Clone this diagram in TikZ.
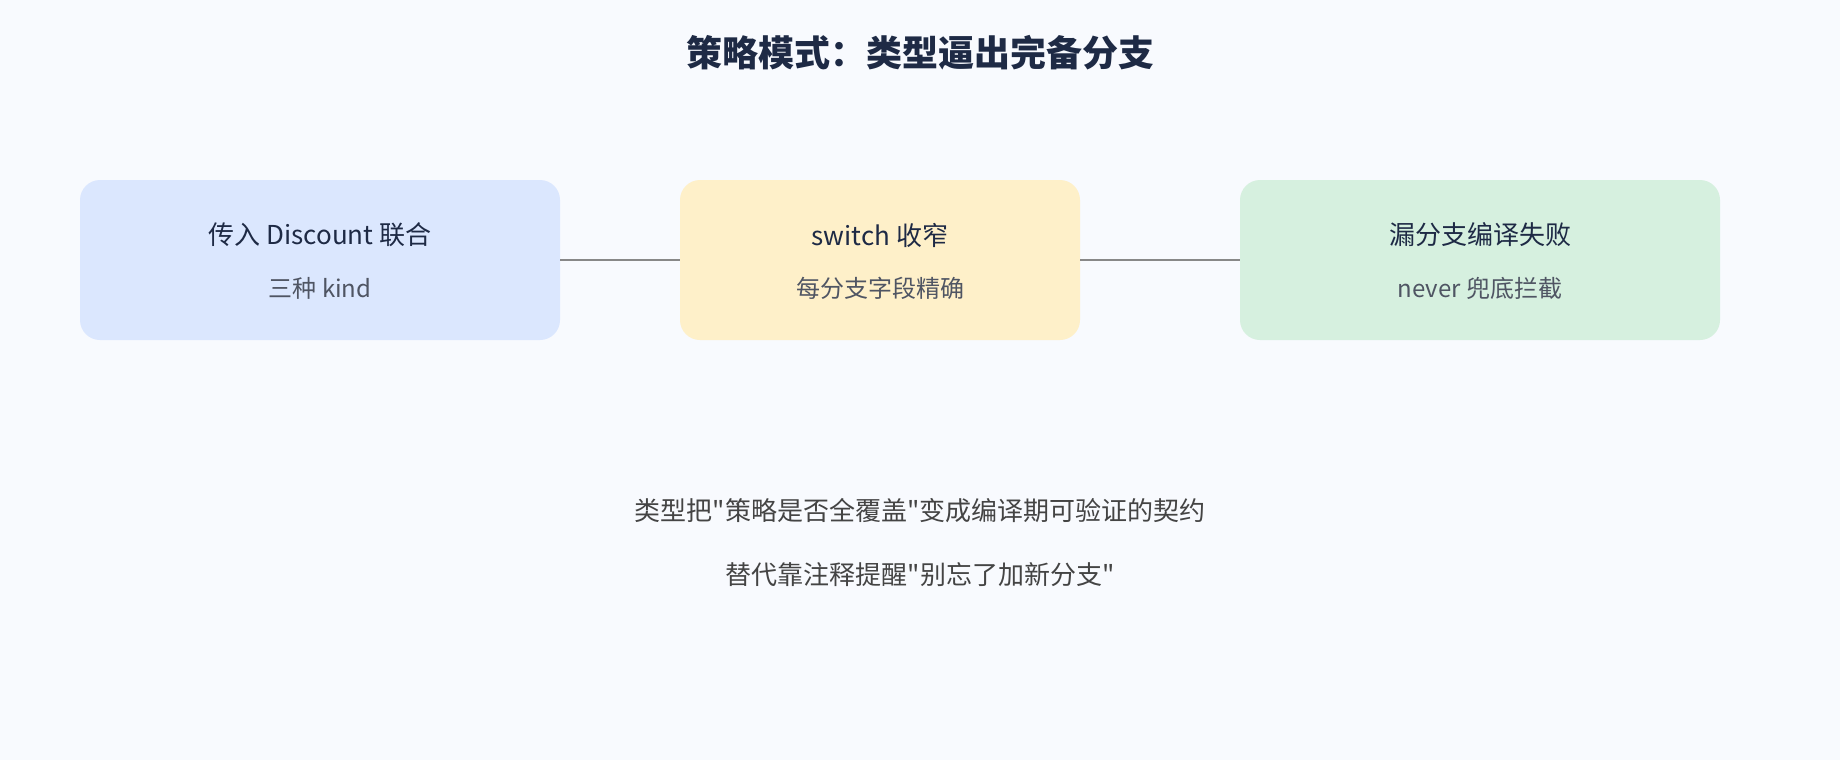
\documentclass[tikz,border=0pt]{standalone}
\usepackage{fontspec}
\setmainfont{Noto Sans CJK SC}[Ligatures=TeXOff]

\definecolor{bgc}{HTML}{F8FAFE}
\definecolor{bluec}{HTML}{DBE7FE}
\definecolor{ambc}{HTML}{FEF0C9}
\definecolor{greenc}{HTML}{D6F0DF}
\definecolor{headc}{HTML}{1E2A45}
\definecolor{subc}{HTML}{4F5563}
\definecolor{notec}{HTML}{444444}
\definecolor{linec}{HTML}{888888}

\tikzstyle{card}=[rounded corners=10pt,minimum width=240pt,minimum height=80pt,inner sep=0pt]
\tikzstyle{head}=[font=\fontsize{13}{15}\selectfont,text=headc,inner sep=0pt]
\tikzstyle{sub}=[font=\fontsize{12}{14}\selectfont,text=subc,inner sep=0pt]
\tikzstyle{note}=[font=\fontsize{13}{15}\selectfont,text=notec,inner sep=0pt]
\tikzstyle{edge} = [draw,line width=1pt,linec,-]

\begin{document}
\begin{tikzpicture}[x=0.5pt, y=-0.5pt]
		\fill[bgc] (0,0) rectangle (1840,760);
		\node [font=\fontsize{18}{21}\selectfont\bfseries,text=headc] (title) at (920,53) {策略模式：类型逼出完备分支};

		\node [card,fill=bluec]  (input)  at (320,260)  {};
		\node [card,fill=ambc,minimum width=200pt] (narrow) at (880,260) {};
		\node [card,fill=greenc] (fail)   at (1480,260) {};

		\node [head] (inputhead)  at (320,235)  {传入 Discount 联合};
		\node [sub]  (inputsub)   at (320,288)  {三种 kind};
		\node [head] (narrowhead) at (880,235)  {switch 收窄};
		\node [sub]  (narrowsub)  at (880,288)  {每分支字段精确};
		\node [head] (failhead)   at (1480,235) {漏分支编译失败};
		\node [sub]  (failsub)    at (1480,288) {never 兜底拦截};

		\node [note] (note1) at (920,511) {类型把"策略是否全覆盖"变成编译期可验证的契约};
		\node [note] (note2) at (920,575) {替代靠注释提醒"别忘了加新分支"};

		\draw [edge] (input)  -- (narrow);
		\draw [edge] (narrow) -- (fail);
	\end{tikzpicture}
\end{document}
